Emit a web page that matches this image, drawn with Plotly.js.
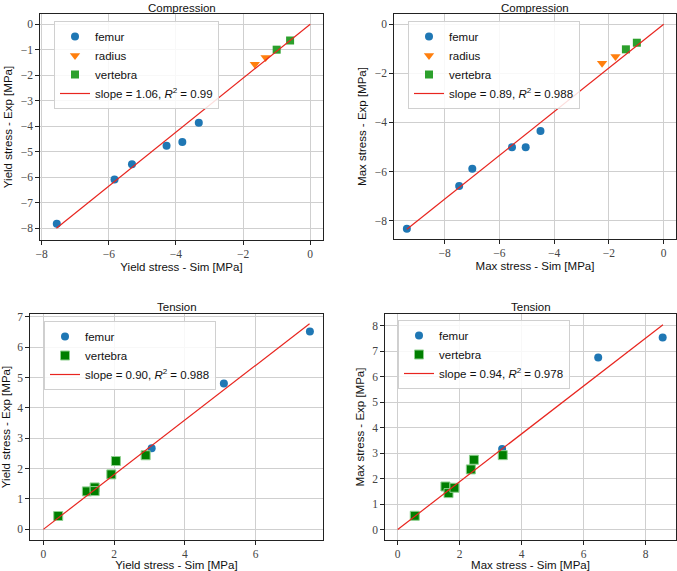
<!DOCTYPE html>
<html>
<head>
<meta charset="utf-8">
<script src="https://cdn.plot.ly/plotly-3.0.1.min.js"></script>
<style>
  html, body { margin: 0; padding: 0; background: #fff; }
  #chart { width: 677px; height: 571px; }
</style>
</head>
<body>
<div id="chart"></div>
<script>
// compression, yield stress (sim, exp)
const cyFemurX = [-7.55, -5.83, -5.31, -4.28, -3.81, -3.32];
const cyFemurY = [-7.83, -6.10, -5.50, -4.77, -4.62, -3.87];
const cyRadiusX = [-1.65, -1.33];
const cyRadiusY = [-1.57, -1.31];
const cyVertX = [-1.00, -0.60];
const cyVertY = [-1.00, -0.64];
const cyFitX = [-7.56, 0];
const cyFitY = [-8.01, 0];

// compression, max stress
const cmFemurX = [-9.38, -7.47, -6.99, -5.54, -5.04, -4.50];
const cmFemurY = [-8.33, -6.59, -5.89, -5.01, -5.01, -4.35];
const cmRadiusX = [-2.25, -1.76];
const cmRadiusY = [-1.59, -1.31];
const cmVertX = [-1.38, -0.98];
const cmVertY = [-1.02, -0.75];
const cmFitX = [-9.38, 0];
const cmFitY = [-8.35, 0];

// tension, yield stress
const tyFemurX = [7.53, 5.10, 3.06];
const tyFemurY = [6.51, 4.80, 2.67];
const tyVertX = [0.42, 1.23, 1.45, 1.45, 1.92, 2.05, 2.89];
const tyVertY = [0.44, 1.25, 1.38, 1.26, 1.81, 2.25, 2.44];
const tyFitX = [0, 7.52];
const tyFitY = [0, 6.77];

// tension, max stress
const tmFemurX = [8.55, 6.47, 3.37];
const tmFemurY = [7.54, 6.75, 3.16];
const tmVertX = [0.55, 1.54, 1.64, 1.83, 2.36, 2.46, 3.39];
const tmVertY = [0.54, 1.69, 1.43, 1.64, 2.36, 2.74, 2.92];
const tmFitX = [0, 8.56];
const tmFitY = [0, 8.04];

const fitLabels = [
  "slope = 1.06, <i>R</i><sup>2</sup> = 0.99",
  "slope = 0.89, <i>R</i><sup>2</sup> = 0.988",
  "slope = 0.90, <i>R</i><sup>2</sup> = 0.988",
  "slope = 0.94, <i>R</i><sup>2</sup> = 0.978"
];

const BLUE = "#1f77b4", ORANGE = "#ff7f0e", GREEN = "#2ca02c", DKGREEN = "#007f00", RED = "#e8251f";
const SANS = "Liberation Sans, Arial, sans-serif";
const SERIF = "Liberation Serif, Times New Roman, serif";

function pts(x, y, name, marker, ax, leg){
  return { x, y, name, type: "scatter", mode: "markers", marker,
    xaxis: "x" + ax, yaxis: "y" + ax, legend: leg };
}
function fit(x, y, name, ax, leg){
  return { x, y, name, type: "scatter", mode: "lines",
    line: { color: RED, width: 1.2 }, xaxis: "x" + ax, yaxis: "y" + ax, legend: leg };
}

const mFemur = { symbol: "circle", size: 8, color: BLUE };
const mRadius = { symbol: "triangle-down", size: 9, color: ORANGE };
const mVert = { symbol: "square", size: 8, color: GREEN };
const mVertT = { symbol: "square", size: 9, color: DKGREEN, line: { color: "#8fd08f", width: 1 } };

const traces = [
  pts(cyFemurX, cyFemurY, "femur", mFemur, "", "legend"),
  pts(cyRadiusX, cyRadiusY, "radius", mRadius, "", "legend"),
  pts(cyVertX, cyVertY, "vertebra", mVert, "", "legend"),
  fit(cyFitX, cyFitY, fitLabels[0], "", "legend"),

  pts(cmFemurX, cmFemurY, "femur", mFemur, "2", "legend2"),
  pts(cmRadiusX, cmRadiusY, "radius", mRadius, "2", "legend2"),
  pts(cmVertX, cmVertY, "vertebra", mVert, "2", "legend2"),
  fit(cmFitX, cmFitY, fitLabels[1], "2", "legend2"),

  pts(tyFemurX, tyFemurY, "femur", mFemur, "3", "legend3"),
  pts(tyVertX, tyVertY, "vertebra", mVertT, "3", "legend3"),
  fit(tyFitX, tyFitY, fitLabels[2], "3", "legend3"),

  pts(tmFemurX, tmFemurY, "femur", mFemur, "4", "legend4"),
  pts(tmVertX, tmVertY, "vertebra", mVertT, "4", "legend4"),
  fit(tmFitX, tmFitY, fitLabels[3], "4", "legend4")
];

function axis(domain, range, dtick, title, anchor, standoff){
  return {
    domain, range, dtick, anchor,
    showline: true, mirror: true, linecolor: "#222", linewidth: 1.3,
    showgrid: true, gridcolor: "#cfcfcf", gridwidth: 1, zeroline: false,
    ticks: "outside", ticklen: 3.5, tickcolor: "#222",
    tickfont: { family: SERIF, size: 11.5, color: "#444" },
    title: { text: title, font: { family: SANS, size: 11.5, color: "#111" }, standoff },
    automargin: false
  };
}

function leg(x, y){
  return {
    x, y, xanchor: "left", yanchor: "top",
    bgcolor: "rgba(255,255,255,0.85)", bordercolor: "#d0d0d0", borderwidth: 1,
    font: { family: SANS, size: 11.5, color: "#111" },
    tracegroupgap: 0, itemwidth: 30
  };
}

function title(text, x, y){
  return { text, x, y, xref: "paper", yref: "paper", xanchor: "center", yanchor: "middle",
    showarrow: false, font: { family: SANS, size: 11.5, color: "#111" } };
}

const W = 677, H = 571;
const dx = (a, b) => [a / W, b / W];
const dy = (top, bot) => [1 - bot / H, 1 - top / H];

const layout = {
  width: W, height: H,
  margin: { l: 0, r: 0, t: 0, b: 0 },
  paper_bgcolor: "#fff", plot_bgcolor: "#fff",
  showlegend: true,
  xaxis:  axis(dx(40, 323),  [-8.05, 0.38], 2, "Yield stress - Sim [MPa]", "y", 3),
  yaxis:  axis(dy(14, 240),  [-8.47, 0.4], 1, "Yield stress - Exp [MPa]", "x", 5),
  xaxis2: axis(dx(394, 676), [-9.85, 0.45], 2, "Max stress - Sim [MPa]", "y2", 3),
  yaxis2: axis(dy(14, 239),  [-8.75, 0.42], 2, "Max stress - Exp [MPa]", "x2", 5),
  xaxis3: axis(dx(30, 323),  [-0.377, 7.9], 2, "Yield stress - Sim [MPa]", "y3", 2),
  yaxis3: axis(dy(314, 540), [-0.35, 7.09], 1, "Yield stress - Exp [MPa]", "x3", 5),
  xaxis4: axis(dx(385, 676), [-0.41, 8.98], 2, "Max stress - Sim [MPa]", "y4", 2),
  yaxis4: axis(dy(314, 540), [-0.41, 8.46], 1, "Max stress - Exp [MPa]", "x4", 5),
  legend:  leg(54 / W, 1 - 21 / H),
  legend2: leg(408 / W, 1 - 21 / H),
  legend3: leg(44 / W, 1 - 321 / H),
  legend4: leg(398 / W, 1 - 320 / H),
  annotations: [
    title("Compression", (40 + 323) / 2 / W, 1 - 7.5 / H),
    title("Compression", (394 + 676) / 2 / W, 1 - 7.5 / H),
    title("Tension", (30 + 323) / 2 / W, 1 - 307 / H),
    title("Tension", (385 + 676) / 2 / W, 1 - 307 / H)
  ]
};

Plotly.newPlot("chart", traces, layout, { displayModeBar: false, responsive: false });
</script>
</body>
</html>
